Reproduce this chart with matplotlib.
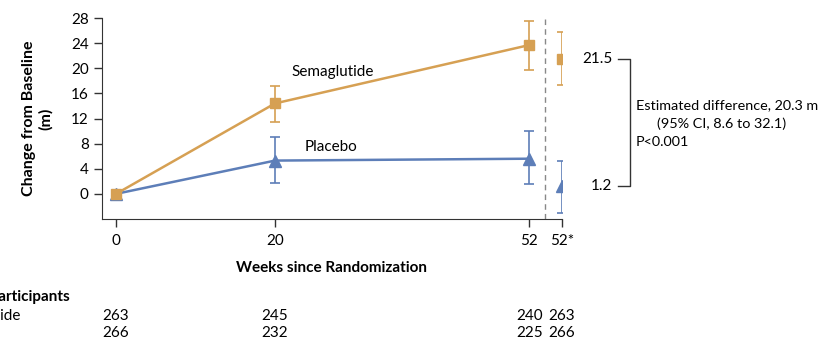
import numpy as np
import matplotlib
matplotlib.use('Agg')
import matplotlib.pyplot as plt
import matplotlib.transforms as mtransforms

plt.rcParams['font.family'] = ['Lato', 'DejaVu Sans']
plt.rcParams['font.size'] = 11

# data
weeks = [0, 20, 52]
sema_mean = [0.0, 14.4, 23.7]
sema_lo = [0.0, 11.4, 19.8]
sema_hi = [0.0, 17.2, 27.5]
plac_mean = [0.0, 5.3, 5.6]
plac_lo = [0.0, 1.8, 1.6]
plac_hi = [0.0, 9.1, 10.0]

# estimated values at 52 weeks (plotted at extra position "52*")
est_pos = 56.1
sema_est, sema_est_lo, sema_est_hi = 21.5, 17.4, 25.8
plac_est, plac_est_lo, plac_est_hi = 1.2, -3.1, 5.3

xticks = [0, 20, 52, est_pos]
xticklabels = ['0', '20', '52', '52*']
n_sema = [263, 245, 240, 263]
n_plac = [266, 232, 225, 266]

orange = '#D6A053'
blue = '#5D7EB8'
fs = 11

W, H = 828, 339
fig = plt.figure(figsize=(W / 100, H / 100), dpi=100)
ax = fig.add_axes([102 / W, 1 - 219 / H, (562 - 102) / W, (219 - 18) / H])


def err(mean, lo, hi):
    m = np.array(mean)
    return [m - np.array(lo), np.array(hi) - m]


ax.errorbar(weeks, plac_mean, yerr=err(plac_mean, plac_lo, plac_hi), color=blue,
            marker='^', markersize=8, lw=1.8, elinewidth=1.2, capsize=3.5, capthick=1.2, zorder=3)
ax.errorbar(weeks, sema_mean, yerr=err(sema_mean, sema_lo, sema_hi), color=orange,
            marker='s', markersize=7, lw=1.8, elinewidth=1.2, capsize=3.5, capthick=1.2, zorder=4)
ax.errorbar([est_pos], [sema_est], yerr=[[sema_est - sema_est_lo], [sema_est_hi - sema_est]],
            color=orange, marker='s', markersize=7, elinewidth=1.2, capsize=3.5, capthick=1.2)
ax.errorbar([est_pos], [plac_est], yerr=[[plac_est - plac_est_lo], [plac_est_hi - plac_est]],
            color=blue, marker='^', markersize=8, elinewidth=1.2, capsize=3.5, capthick=1.2)

ax.axvline(54, color='#888888', ls=(0, (4, 3)), lw=1)

ax.set_xlim(-1.76, est_pos)
ax.set_ylim(-4, 28)
ax.set_yticks(range(0, 29, 4))
ax.set_xticks(xticks)
ax.set_xticklabels(xticklabels)
ax.spines['top'].set_visible(False)
ax.spines['right'].set_visible(False)
for s in ['left', 'bottom']:
    ax.spines[s].set_color('#333333')
ax.tick_params(direction='out', length=6, width=1, color='#333333', labelsize=fs)
ax.tick_params(axis='x', pad=5)

ax.set_ylabel('Change from Baseline\n(m)', fontweight='bold', fontsize=11.5, labelpad=13)
ax.set_xlabel('Weeks since Randomization', fontweight='bold', fontsize=fs, labelpad=9)

ax.text(27.3, 19.4, 'Semaglutide', fontsize=fs, ha='center', va='center')
ax.text(27.0, 7.5, 'Placebo', fontsize=fs, ha='center', va='center')

# bracket for estimated difference
bx0, bx1 = 63.1, 64.6
ax.plot([bx0, bx1, bx1, bx0], [sema_est, sema_est, plac_est, plac_est],
        color='#333333', lw=1, clip_on=False)
ax.text(62.4, sema_est, '21.5', ha='right', va='center', fontsize=fs)
ax.text(62.4, plac_est, '1.2', ha='right', va='center', fontsize=fs)
ax.text(65.4, 14.2, 'Estimated difference, 20.3 m', ha='left', va='center', fontsize=10.4)
ax.text(68.1, 11.1, '(95% CI, 8.6 to 32.1)', ha='left', va='center', fontsize=10.4)
ax.text(65.4, 8.3, 'P<0.001', ha='left', va='center', fontsize=10.4)

# number at risk table
trans = mtransforms.blended_transform_factory(ax.transData, fig.transFigure)
fig.text(-57 / W, 1 - 297 / H, 'No. of Participants', fontweight='bold', fontsize=fs,
         ha='left', va='center')
fig.text(-62 / W, 1 - 316 / H, 'Semaglutide', fontsize=fs, ha='left', va='center')
fig.text(-62 / W, 1 - 333 / H, 'Placebo', fontsize=fs, ha='left', va='center')
for x, a, b in zip(xticks, n_sema, n_plac):
    ax.text(x, 1 - 316 / H, str(a), transform=trans, ha='center', va='center', fontsize=fs)
    ax.text(x, 1 - 333 / H, str(b), transform=trans, ha='center', va='center', fontsize=fs)

fig.savefig('out.png', dpi=100)
